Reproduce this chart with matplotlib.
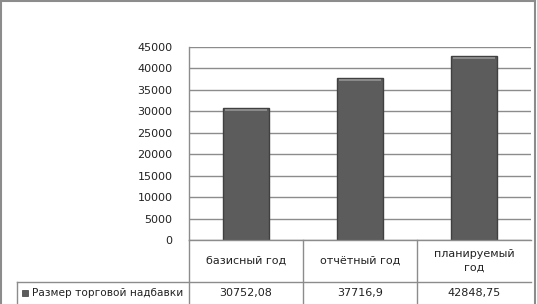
import matplotlib
matplotlib.use("Agg")
import matplotlib.pyplot as plt
from matplotlib.transforms import blended_transform_factory
from matplotlib.patches import Rectangle
from matplotlib.lines import Line2D

categories = ["базисный год", "отчётный год", "планируемый\nгод"]
values = [30752.08, 37716.9, 42848.75]
value_labels = ["30752,08", "37716,9", "42848,75"]
series_name = "Размер торговой надбавки"
yticks = [0, 5000, 10000, 15000, 20000, 25000, 30000, 35000, 40000, 45000]

W, H = 537, 304
fig = plt.figure(figsize=(W / 100, H / 100), dpi=100)
plt.rcParams['font.family'] = ['DejaVu Sans']

def fx(px):
    return px / W

def fy(py):
    return 1 - py / H

ax = fig.add_axes([fx(189), fy(240), fx(531) - fx(189), fy(47) - fy(240)])
grid_c = '#8c8c8c'
x = list(range(len(categories)))
ax.bar(x, values, width=0.4, color='#5c5c5c', edgecolor='#404040', linewidth=1.0, zorder=3)
# subtle top highlight
for xi, v in zip(x, values):
    ax.bar(xi, 500, bottom=v - 750, width=0.36, color='#8a8a8a', linewidth=0, zorder=4)

ax.set_xlim(-0.5, 2.5)
ax.set_ylim(0, 45000)
ax.set_yticks(yticks)
ax.set_yticklabels([str(t) for t in yticks], fontsize=8, color='#222222')
ax.tick_params(axis='y', length=0, pad=12)
ax.set_xticks([])
ax.yaxis.grid(True, color=grid_c, linewidth=1.0, zorder=0)
for s in ['top', 'right', 'bottom']:
    ax.spines[s].set_visible(False)
ax.spines['left'].set_color(grid_c)
ax.spines['left'].set_linewidth(1.0)

# data table
bt = blended_transform_factory(ax.transData, fig.transFigure)
lw = 1.0
def hline(x0px, x1px, ypx, w=lw):
    fig.add_artist(Line2D([fx(x0px), fx(x1px)], [fy(ypx), fy(ypx)], color=grid_c, lw=w, transform=fig.transFigure))
def vline(xpx, y0px, y1px, w=lw):
    fig.add_artist(Line2D([fx(xpx), fx(xpx)], [fy(y0px), fy(y1px)], color=grid_c, lw=w, transform=fig.transFigure))

hline(189, 531, 240)
hline(17, 531, 282)
for b in [-0.5, 0.5, 1.5]:
    fig.add_artist(Line2D([b, b], [fy(240), fy(304)], color=grid_c, lw=lw, transform=bt))
vline(17, 282, 304)

for xi, c, vl in zip(x, categories, value_labels):
    fig.text(xi, fy(261), c, transform=bt, ha='center', va='center', fontsize=8,
             color='#222222', linespacing=1.5)
    fig.text(xi, fy(293), vl, transform=bt, ha='center', va='center', fontsize=8, color='#222222')

fig.add_artist(Rectangle((fx(22), fy(296)), fx(6), fy(290) - fy(296), transform=fig.transFigure,
                         facecolor='#5c5c5c', edgecolor='#3c3c3c', lw=0.5))
fig.text(fx(32), fy(293), series_name, ha='left', va='center', fontsize=7.6, color='#222222')

# outer frame (top, left, right; bottom is cut off)
hline(1, 535, 1, 1.5)
vline(1, 1, 304, 1.5)
vline(535, 1, 304, 1.5)

fig.savefig("out.png", dpi=100)
